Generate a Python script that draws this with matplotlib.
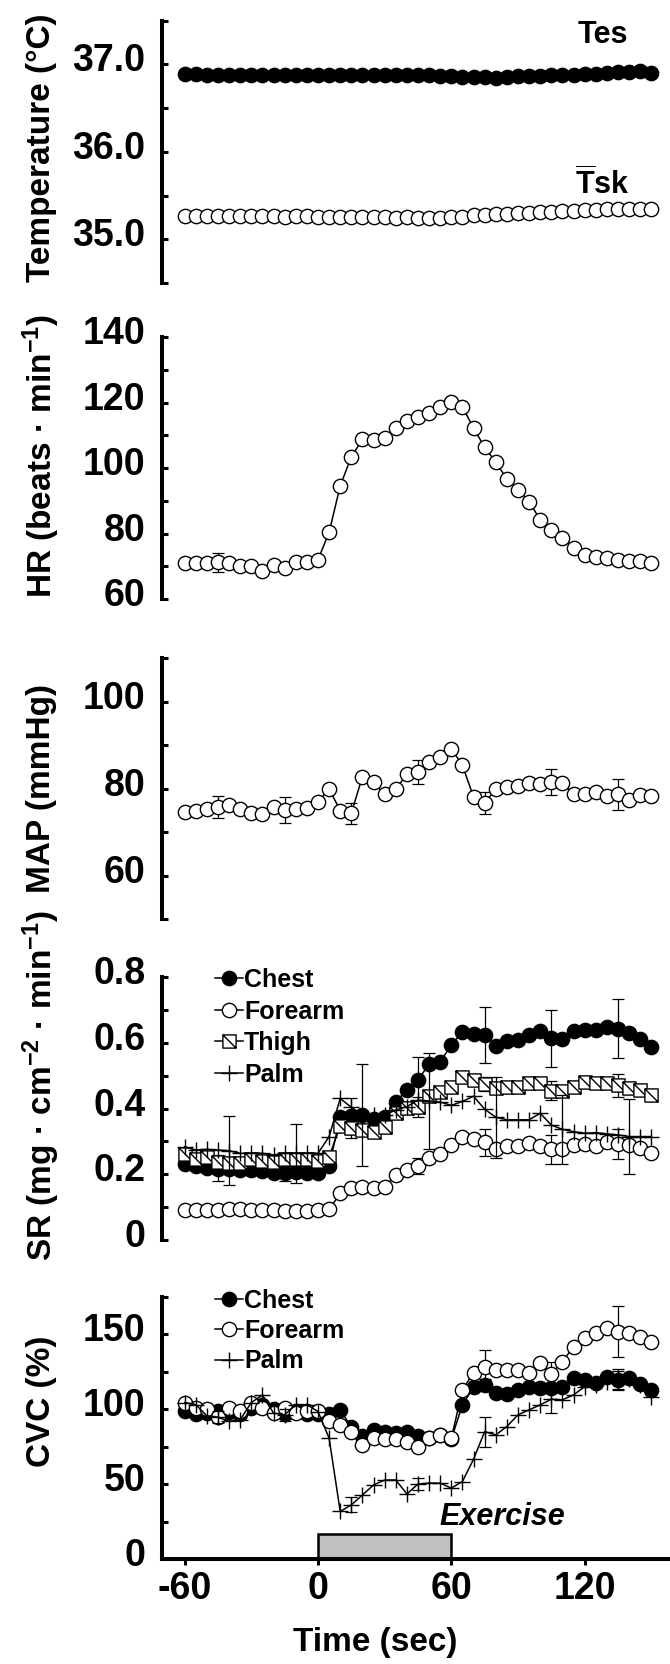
import matplotlib.pyplot as plt
from matplotlib.path import Path
from matplotlib.patches import Rectangle
from matplotlib.transforms import ScaledTranslation

plt.rcParams['font.family'] = ['Liberation Sans', 'DejaVu Sans']
plt.rcParams['font.weight'] = 'bold'
plt.rcParams['axes.labelweight'] = 'bold'
plt.rcParams['mathtext.default'] = 'regular'
plt.rcParams['axes.unicode_minus'] = False

# time points (sec), exercise from 0 to 60 s
time_s = [-60, -55, -50, -45, -40, -35, -30, -25, -20, -15, -10, -5, 0,
          5, 10, 15, 20, 25, 30, 35, 40, 45, 50, 55, 60, 65, 70, 75, 80, 85,
          90, 95, 100, 105, 110, 115, 120, 125, 130, 135, 140, 145, 150]
exercise = (0, 60)

# error bars are drawn every 30 s (two staggered sets)
err_t_a = [-45, -15, 15, 45, 75, 105, 135]
err_t_b = [-40, -10, 20, 50, 80, 110, 140]

# temperatures (deg C)
tes = [36.89, 36.89, 36.88, 36.88, 36.88, 36.88, 36.88, 36.88, 36.88, 36.88, 36.88, 36.88, 36.88,
       36.88, 36.88, 36.88, 36.88, 36.88, 36.88, 36.88, 36.88, 36.88, 36.88, 36.87, 36.87, 36.86,
       36.86, 36.85, 36.84, 36.86, 36.87, 36.87, 36.87, 36.88, 36.88, 36.88, 36.89, 36.89, 36.90,
       36.91, 36.91, 36.92, 36.90]
tsk = [35.27, 35.27, 35.27, 35.27, 35.27, 35.27, 35.27, 35.27, 35.27, 35.26, 35.27, 35.27, 35.26,
       35.26, 35.25, 35.25, 35.25, 35.25, 35.25, 35.24, 35.25, 35.24, 35.24, 35.24, 35.25, 35.26,
       35.28, 35.28, 35.29, 35.29, 35.30, 35.30, 35.31, 35.31, 35.32, 35.32, 35.33, 35.33, 35.34,
       35.34, 35.34, 35.35, 35.35]
tsk_err = [0.05, 0.04, 0.02, 0.04, 0.02, 0.02, 0.04]

# heart rate (beats/min)
hr = [71.0, 71.0, 71.0, 71.2, 71.0, 70.2, 70.0, 68.7, 70.3, 69.5, 71.2, 71.2, 72.0,
      80.4, 94.6, 103.5, 108.8, 108.6, 109.1, 112.2, 114.5, 115.5, 116.8, 118.6, 120.3, 118.8,
      112.2, 106.4, 101.8, 96.7, 93.4, 89.8, 84.2, 81.2, 78.6, 75.6, 73.5, 72.8, 72.5, 71.8,
      71.7, 71.5, 71.0]
hr_err = [3.0, 0.6, 0.5, 0.5, 0.5, 0.6, 0.5]

# mean arterial pressure (mmHg)
map_ = [74.6, 75.0, 75.4, 75.8, 76.2, 75.4, 74.4, 74.2, 75.8, 75.2, 75.4, 75.6, 76.9,
        80.0, 75.0, 74.4, 82.8, 81.5, 78.7, 80.0, 83.3, 83.8, 86.2, 87.3, 89.2, 85.4,
        78.1, 76.7, 80.0, 80.4, 80.6, 81.3, 81.0, 81.5, 81.3, 78.7, 78.8, 79.2, 78.3, 78.7,
        77.5, 78.5, 78.3]
map_err = [2.5, 3.0, 2.4, 2.8, 2.6, 3.0, 3.5]

# sweat rate (mg/cm2/min)
sr_chest = [0.230, 0.225, 0.220, 0.215, 0.215, 0.212, 0.213, 0.210, 0.205, 0.205, 0.208, 0.205, 0.205,
            0.225, 0.375, 0.377, 0.380, 0.368, 0.375, 0.421, 0.457, 0.487, 0.536, 0.543, 0.594, 0.634,
            0.626, 0.624, 0.591, 0.607, 0.609, 0.624, 0.637, 0.614, 0.611, 0.637, 0.641, 0.639, 0.649,
            0.644, 0.631, 0.611, 0.587]
sr_forearm = [0.090, 0.090, 0.092, 0.092, 0.095, 0.095, 0.092, 0.092, 0.090, 0.088, 0.088, 0.088, 0.090,
              0.093, 0.142, 0.157, 0.162, 0.157, 0.162, 0.198, 0.212, 0.225, 0.249, 0.262, 0.289, 0.315,
              0.307, 0.297, 0.276, 0.286, 0.286, 0.294, 0.286, 0.276, 0.276, 0.289, 0.292, 0.286, 0.297,
              0.292, 0.289, 0.279, 0.266]
sr_thigh = [0.262, 0.246, 0.254, 0.239, 0.236, 0.236, 0.246, 0.242, 0.239, 0.246, 0.246, 0.246, 0.242,
            0.254, 0.347, 0.340, 0.335, 0.330, 0.345, 0.386, 0.401, 0.406, 0.438, 0.452, 0.467, 0.495,
            0.487, 0.475, 0.462, 0.467, 0.467, 0.479, 0.477, 0.455, 0.455, 0.467, 0.482, 0.477, 0.477,
            0.472, 0.462, 0.457, 0.441]
sr_palm = [0.284, 0.274, 0.276, 0.274, 0.272, 0.264, 0.264, 0.264, 0.259, 0.264, 0.264, 0.264, 0.264,
           0.315, 0.431, 0.404, 0.381, 0.381, 0.381, 0.396, 0.406, 0.426, 0.423, 0.420, 0.410, 0.422,
           0.438, 0.398, 0.374, 0.366, 0.366, 0.366, 0.386, 0.350, 0.337, 0.330, 0.325, 0.327, 0.323,
           0.320, 0.315, 0.315, 0.315]
sr_chest_err = [0.035, 0.025, 0.055, 0.07, 0.085, 0.087, 0.09]
sr_forearm_err = [0.005, 0.005, 0.015, 0.025, 0.04, 0.045, 0.045]
sr_thigh_err = [0.02, 0.02, 0.03, 0.03, 0.02, 0.03, 0.035]
sr_palm_err = [0.105, 0.09, 0.155, 0.145, 0.123, 0.105, 0.115]   # at err_t_b

# cutaneous vascular conductance (% baseline)
cvc_chest = [98.5, 96.5, 97.5, 99.0, 98.0, 97.0, 101.0, 103.0, 100.0, 97.0, 99.0, 97.0, 96.5,
             97.0, 99.5, 88.0, 82.0, 86.0, 85.0, 84.0, 84.5, 82.0, 81.0, 83.0, 80.0, 103.0,
             114.5, 116.0, 110.5, 110.0, 113.0, 114.5, 114.0, 114.0, 114.5, 121.0, 119.5, 117.5,
             121.5, 119.5, 120.5, 117.0, 113.0]
cvc_forearm = [104.0, 100.5, 100.0, 95.0, 101.0, 99.0, 104.0, 100.5, 97.5, 100.5, 97.5, 98.5, 98.5,
               92.0, 89.5, 85.0, 76.0, 80.5, 80.0, 80.0, 78.0, 75.0, 81.0, 83.0, 80.5, 112.8,
               124.4, 128.4, 126.2, 126.2, 126.2, 124.0, 130.6, 123.5, 131.7, 141.7, 147.3, 150.6,
               153.9, 151.7, 150.6, 148.3, 145.0]
cvc_palm = [104.4, 103.0, 95.5, 94.6, 91.8, 92.9, 104.4, 109.5, 97.3, 96.2, 103.0, 103.0, 98.4,
            80.6, 31.7, 36.1, 42.7, 49.4, 52.7, 52.7, 43.4, 50.0, 50.6, 50.6, 47.3, 51.7,
            66.6, 85.0, 82.8, 88.4, 96.2, 99.5, 102.8, 106.6, 106.2, 109.5, 115.0, 116.2,
            118.4, 119.5, 120.0, 116.0, 108.4]
cvc_chest_err = [2, 2, 2, 2, 4, 3, 7]
cvc_forearm_err = [3, 3, 3, 3, 11, 8, 17]
cvc_palm_err = [4, 4, 5, 4, 10, 9, 6]

# axis ticks / labels
temp_ticks = [34.5, 35.0, 35.5, 36.0, 36.5, 37.0, 37.5]
temp_labels = ['', '35.0', '', '36.0', '', '37.0', '']
hr_ticks = [60, 70, 80, 90, 100, 110, 120, 130, 140]
hr_labels = ['60', '', '80', '', '100', '', '120', '', '140']
map_ticks = [50, 60, 70, 80, 90, 100, 110]
map_labels = ['', '60', '', '80', '', '100', '']
sr_ticks = [0, 0.1, 0.2, 0.3, 0.4, 0.5, 0.6, 0.7, 0.8]
sr_labels = ['0', '', '0.2', '', '0.4', '', '0.6', '', '0.8']
cvc_ticks = [0, 25, 50, 75, 100, 125, 150, 175]
cvc_labels = ['0', '', '50', '', '100', '', '150', '']
x_ticks = [-60, 0, 60, 120]

ylabels = ['Temperature (°C)', 'HR (beats · min$^{-1}$)', 'MAP (mmHg)',
           'SR (mg · cm$^{-2}$ · min$^{-1}$)', 'CVC (%)']

# thigh marker: open square with a diagonal
SQ_DIAG = Path([(-1, -1), (1, -1), (1, 1), (-1, 1), (-1, -1), (-1, 1), (1, -1)],
               [Path.MOVETO, Path.LINETO, Path.LINETO, Path.LINETO, Path.CLOSEPOLY,
                Path.MOVETO, Path.LINETO])

LEG_FONT = {'weight': 'bold', 'size': 18}


def draw(ax, y, marker, face, err_t=None, err=None, label=None, ms=10.3, z=3):
    ax.plot(time_s, y, color='k', lw=1.1, marker=marker, mfc=face, mec='k', mew=1.0,
            ms=ms, label=label, zorder=z, clip_on=False)
    if err is not None:
        idx = [time_s.index(t) for t in err_t]
        ax.errorbar([time_s[i] for i in idx], [y[i] for i in idx], yerr=err, fmt='none',
                    ecolor='k', elinewidth=0.9, capsize=4, capthick=0.9, zorder=z - 0.5)


W, H = 670, 1664
left_px = 162
panels_px = [(20.5, 283), (337.3, 599), (658.3, 919.3), (977.3, 1240), (1296.7, 1559)]

fig = plt.figure(figsize=(W / 100, H / 100), dpi=100)
axes = []
for top, bot in panels_px:
    ax = fig.add_axes([left_px / W, 1 - bot / H, 1 - left_px / W, (bot - top) / H])
    axes.append(ax)

ax1, ax2, ax3, ax4, ax5 = axes

# temperature
draw(ax1, tes, 'o', 'k')
draw(ax1, tsk, 'o', 'w', err_t_a, tsk_err)
ax1.set_ylim(34.5, 37.5)
ax1.set_yticks(temp_ticks, temp_labels)
ax1.text(128, 37.33, 'Tes', ha='center', va='center', fontsize=22)
ax1.text(128, 35.62, r'$\overline{T}$sk', ha='center', va='center', fontsize=22)

# heart rate
draw(ax2, hr, 'o', 'w', err_t_a, hr_err)
ax2.set_ylim(60, 140)
ax2.set_yticks(hr_ticks, hr_labels)

# MAP
draw(ax3, map_, 'o', 'w', err_t_a, map_err)
ax3.set_ylim(50, 110)
ax3.set_yticks(map_ticks, map_labels)

# sweat rate
draw(ax4, sr_chest, 'o', 'k', err_t_a, sr_chest_err, 'Chest', z=3)
draw(ax4, sr_forearm, 'o', 'w', err_t_a, sr_forearm_err, 'Forearm', z=4)
draw(ax4, sr_thigh, SQ_DIAG, 'w', err_t_a, sr_thigh_err, 'Thigh', ms=9.5, z=5)
draw(ax4, sr_palm, '+', 'none', err_t_b, sr_palm_err, 'Palm', ms=11.5, z=6)
ax4.set_ylim(0, 0.8)
ax4.set_yticks(sr_ticks, sr_labels)
ax4.legend(loc='upper left', bbox_to_anchor=(0.105, 1.035), frameon=False, prop=LEG_FONT,
           handlelength=1.1, handletextpad=0.05, labelspacing=0.3, borderpad=0,
           borderaxespad=0)

# CVC
draw(ax5, cvc_chest, 'o', 'k', err_t_a, cvc_chest_err, 'Chest', z=3)
draw(ax5, cvc_forearm, 'o', 'w', err_t_a, cvc_forearm_err, 'Forearm', z=4)
draw(ax5, cvc_palm, '+', 'none', err_t_a, cvc_palm_err, 'Palm', ms=11.5, z=5)
ax5.set_ylim(0, 175)
ax5.set_yticks(cvc_ticks, cvc_labels)
ax5.legend(loc='upper left', bbox_to_anchor=(0.105, 1.03), frameon=False, prop=LEG_FONT,
           handlelength=1.1, handletextpad=0.05, labelspacing=0.25, borderpad=0,
           borderaxespad=0)
ax5.add_patch(Rectangle((exercise[0], 0), exercise[1] - exercise[0], 17, fc='#c0c0c0',
                        ec='k', lw=1.8, zorder=2, clip_on=False))
ax5.text(83, 28, 'Exercise', ha='center', va='center', fontsize=22, style='italic')
ax5.set_xticks(x_ticks)
ax5.set_xlabel('Time (sec)', fontsize=24, va='center')
ax5.xaxis.set_label_coords(0.42, -0.32)

label_y = [0.515, 0.547, 0.5, 0.586, 0.6]
for ax, lab, ly in zip(axes, ylabels, label_y):
    ax.set_xlim(-70.2, 158.4)
    ax.set_facecolor('none')
    for s in ['top', 'right', 'bottom']:
        ax.spines[s].set_visible(False)
    ax.spines['left'].set_linewidth(2.9)
    ax.tick_params(axis='y', direction='in', length=4.5, width=2.2, labelsize=27, pad=12)
    ax.set_ylabel(lab, fontsize=24, va='center')
    ax.yaxis.set_label_coords(-0.237, ly)
    if ax is not ax5:
        ax.tick_params(axis='x', bottom=False, labelbottom=False)

ax5.spines['bottom'].set_visible(True)
ax5.spines['bottom'].set_linewidth(2.9)
ax5.tick_params(axis='x', direction='out', length=4.3, width=2.2, labelsize=27, pad=4)

# tick labels sit a little above their ticks in the original
shift = ScaledTranslation(0, 5 / 72, fig.dpi_scale_trans)
for ax in axes:
    for lab in ax.get_yticklabels():
        lab.set_transform(lab.get_transform() + shift)

fig.savefig('out.png', dpi=100)
